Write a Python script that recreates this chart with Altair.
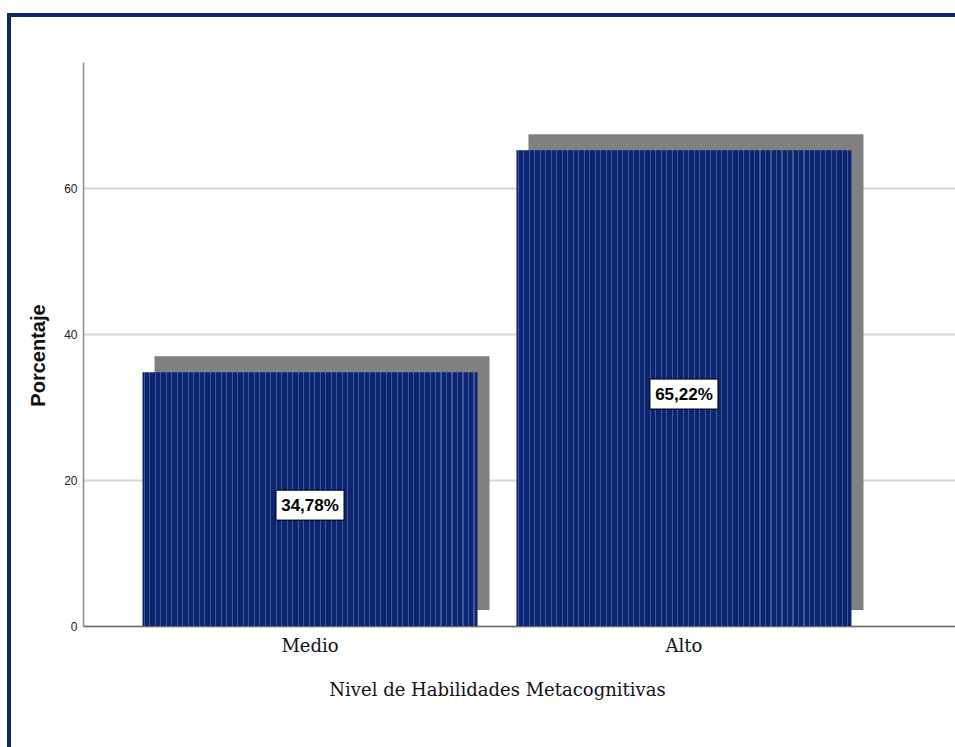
import altair as alt
import pandas as pd

# Frequency distribution (%) of the metacognitive skills level
categorias = ["Medio", "Alto"]
porcentajes = [34.78, 65.22]

df = pd.DataFrame({"nivel": categorias, "pct": porcentajes})

NAVY = "#0b2570"
STRIPE = "#42569a"
FRAME = "#0b2a6e"

# Vertical pinstripe texture for the bars, built as a sharp-stop linear gradient
n_stripes = 61
half = 0.0016
stops = []
for i in range(n_stripes):
    c = (i + 0.35) / n_stripes
    stops += [
        {"offset": max(c - half, 0), "color": NAVY},
        {"offset": max(c - half, 0), "color": STRIPE},
        {"offset": min(c + half, 1), "color": STRIPE},
        {"offset": min(c + half, 1), "color": NAVY},
    ]
texture = {"gradient": "linear", "x1": 0, "x2": 1, "y1": 0, "y2": 0, "stops": stops}

x_enc = alt.X(
    "nivel:N",
    sort=categorias,
    scale=alt.Scale(paddingInner=0.104, paddingOuter=0.218, align=0.365),
    axis=alt.Axis(
        title="Nivel de Habilidades Metacognitivas",
        labelAngle=0,
        labelFont="DejaVu Serif",
        labelFontSize=18,
        labelColor="#111",
        labelBaseline="middle",
        labelPadding=20,
        ticks=False,
        domainColor="#6e6e6e",
        domainWidth=1.5,
        titleFont="DejaVu Serif",
        titleFontSize=18,
        titleFontWeight="normal",
        titleColor="#111",
        titleX=414,
        titleY=64,
        titleAlign="center",
        titleBaseline="middle",
    ),
)

y_scale = alt.Scale(domain=[0, 77.3], nice=False, zero=True)

base = alt.Chart(df)

shadow = base.mark_bar(color="#808080", xOffset=12, yOffset=-16, y2Offset=-16).encode(
    x=x_enc,
    y=alt.Y("pct:Q", scale=y_scale),
    y2=alt.datum(0),
)

bars = base.mark_bar(color=texture).encode(
    x=x_enc,
    y=alt.Y(
        "pct:Q",
        scale=y_scale,
        axis=alt.Axis(
            title="Porcentaje",
            values=[0, 20, 40, 60],
            format="d",
            ticks=False,
            labelFont="Liberation Sans",
            labelFontSize=12,
            labelColor="#222",
            labelPadding=6,
            domainColor="#8a8a8a",
            domainWidth=1.5,
            gridColor="#d6d6d6",
            gridWidth=2,
            titleFont="Liberation Sans",
            titleFontSize=20,
            titleFontWeight="bold",
            titleColor="#111",
            titleAngle=-90,
            titleX=-45,
            titleY=293,
            titleAlign="center",
            titleBaseline="middle",
        ),
    ),
)

labels_src = base.transform_calculate(
    mid="datum.pct / 2",
    txt="replace(format(datum.pct, '.2f'), '.', ',') + '%'",
)

boxes = labels_src.mark_point(
    shape="M-1,-0.44L1,-0.44L1,0.44L-1,0.44Z",
    size=68 * 68,
    filled=True,
    fill="white",
    stroke="black",
    strokeWidth=1,
    opacity=1,
    yOffset=6,
).encode(x=x_enc, y=alt.Y("mid:Q", scale=y_scale))

texts = labels_src.mark_text(
    font="Liberation Sans",
    fontSize=17,
    fontWeight="bold",
    color="black",
    dy=7,
).encode(x=x_enc, y=alt.Y("mid:Q", scale=y_scale), text="txt:N")

frame = alt.Chart(pd.DataFrame({"k": [0]})).mark_rect(
    filled=False, stroke=FRAME, strokeWidth=4
).encode(
    x=alt.value(-74), x2=alt.value(960), y=alt.value(-47), y2=alt.value(760)
)

chart = (
    alt.layer(shadow, bars, boxes, texts, frame)
    .properties(
        width=872,
        height=564,
        autosize=alt.AutoSizeParams(type="none"),
        padding={"left": 83, "top": 62, "right": 0, "bottom": 121},
        background="white",
    )
    .configure_view(stroke=None)
)

chart.save("out.html", embed_options={"renderer": "svg", "actions": False})
